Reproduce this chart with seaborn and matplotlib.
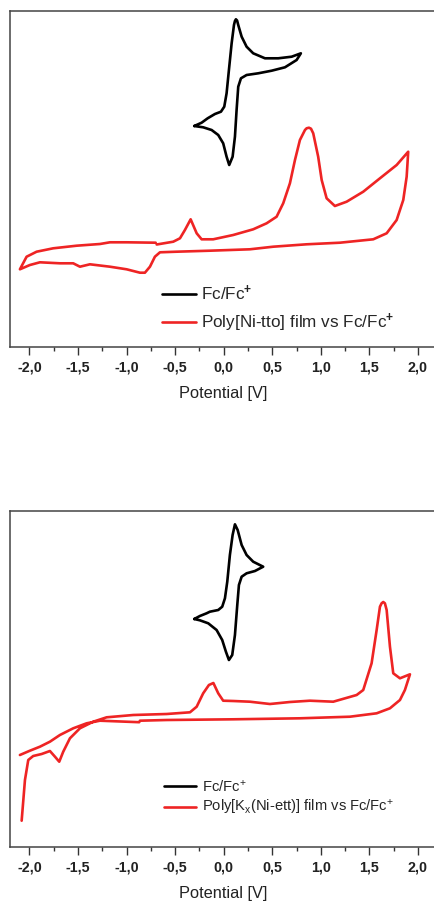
import numpy as np
import pandas as pd
import matplotlib
matplotlib.use("Agg")
import matplotlib.pyplot as plt
import seaborn as sns

# ---- data (potential in V vs Fc/Fc+, current in arbitrary units) ----
# top panel: ferrocene reference
fc_top_v = [-0.303, -0.227, -0.165, -0.090, -0.028, 0.006, 0.030, 0.054, 0.082, 0.106,
            0.116, 0.126, 0.138, 0.150, 0.185, 0.236, 0.304, 0.425, 0.562, 0.700, 0.795,
            0.751, 0.631, 0.494, 0.356, 0.236, 0.178, 0.150, 0.133, 0.116, 0.092,
            0.057, 0.030, -0.005, -0.056, -0.124, -0.211, -0.303]
fc_top_i = [221.0, 224.3, 228.7, 233.0, 235.3, 240.3, 253.7, 277.0, 303.7, 322.0,
            326.0, 327.7, 326.5, 322.0, 310.3, 300.3, 293.7, 288.7, 288.7, 290.3, 293.7,
            287.0, 279.7, 276.3, 273.7, 272.0, 268.7, 260.3, 237.0, 210.3, 190.3,
            182.0, 190.3, 203.7, 212.0, 217.0, 219.7, 221.0]

# top panel: Poly[Ni-tto] film
tto_v = [-0.690, -0.519, -0.450, -0.399, -0.340, -0.278, -0.227, -0.108, 0.098, 0.304,
         0.442, 0.545, 0.613, 0.682, 0.734, 0.785, 0.837, 0.854, 0.878, 0.899, 0.922,
         0.973, 1.009, 1.060, 1.145, 1.266, 1.437, 1.609, 1.781, 1.900,
         1.884, 1.849, 1.781, 1.678, 1.540, 1.197, 0.854, 0.510, 0.270, -0.142,
         -0.484, -0.656, -0.708, -0.759, -0.811, -0.862, -0.999, -1.171, -1.377,
         -1.480, -1.549, -1.686, -1.892, -1.995, -2.098,
         -2.029, -1.926, -1.755, -1.514, -1.274, -1.171, -0.999, -0.700]
tto_i = [102.5, 105.3, 108.7, 117.0, 127.7, 113.7, 107.7, 107.7, 112.0, 117.7,
         123.7, 130.3, 143.7, 163.7, 187.0, 207.0, 217.0, 218.7, 219.3, 218.3, 213.7,
         190.3, 167.0, 148.7, 141.0, 145.3, 155.3, 168.7, 182.0, 195.3,
         170.3, 147.0, 127.0, 113.7, 107.7, 104.3, 102.7, 100.3, 97.7, 96.3,
         95.3, 94.7, 90.3, 80.3, 74.3, 74.3, 77.7, 80.3, 82.7,
         80.3, 83.7, 83.7, 84.7, 82.0, 77.7,
         90.3, 95.3, 98.7, 101.3, 103.0, 104.7, 104.7, 104.3]

# bottom panel: ferrocene reference
fc_bot_v = [-0.303, -0.245, -0.176, -0.142, -0.056, -0.015, 0.013, 0.037, 0.064, 0.092,
            0.116, 0.144, 0.185, 0.236, 0.304, 0.407,
            0.322, 0.236, 0.185, 0.157, 0.140, 0.116, 0.088, 0.054, 0.023, -0.015,
            -0.073, -0.159, -0.245, -0.303]
fc_bot_i = [228.0, 231.0, 233.7, 235.3, 237.0, 240.3, 248.7, 265.3, 292.0, 312.0,
            322.7, 317.0, 302.0, 292.0, 285.3, 280.3,
            276.0, 273.7, 270.3, 262.0, 242.0, 212.0, 192.0, 187.0, 195.3, 207.0,
            217.0, 223.7, 226.7, 228.0]

# bottom panel: Poly[Kx(Ni-ett)] film
ett_v = [-2.080, -2.046, -2.012, -1.961, -1.874, -1.789, -1.737, -1.693, -1.652, -1.583,
         -1.480, -1.343, -1.205, -0.931, -0.587, -0.347, -0.278, -0.211, -0.152, -0.106,
         -0.056, -0.005, 0.098, 0.270, 0.476, 0.682, 0.888, 1.128, 1.369, 1.437,
         1.523, 1.575, 1.609, 1.626, 1.643, 1.660, 1.678, 1.712, 1.746, 1.815, 1.918,
         1.866, 1.815, 1.712, 1.575, 1.300, 0.785, 0.098, -0.587, -0.862, -0.870,
         -1.274, -1.411, -1.549, -1.686, -1.789, -1.892, -1.995, -2.098]
ett_i = [26.3, 67.0, 87.0, 91.0, 93.0, 96.0, 90.3, 85.3, 95.3, 108.7,
         118.7, 125.3, 129.7, 132.0, 133.0, 134.7, 140.3, 153.7, 162.0, 164.0,
         153.7, 146.3, 146.0, 145.3, 143.0, 145.0, 146.3, 145.3, 152.0, 157.0,
         183.7, 217.0, 240.3, 243.7, 245.0, 243.7, 237.0, 200.3, 173.7, 168.7, 172.7,
         157.0, 147.0, 138.7, 133.7, 130.3, 128.7, 127.7, 127.0, 126.3, 124.8,
         126.3, 123.7, 118.7, 112.0, 105.3, 100.3, 96.3, 92.0]

tick_values = [-2.0, -1.5, -1.0, -0.5, 0.0, 0.5, 1.0, 1.5, 2.0]
tick_labels = ["-2,0", "-1,5", "-1,0", "-0,5", "0,0", "0,5", "1,0", "1,5", "2,0"]

label_fc = "Fc/Fc$^{\\mathbf{+}}$"
label_tto = "Poly[Ni-tto] film vs Fc/Fc$^{\\mathbf{+}}$"
label_fc2 = "Fc/Fc$^{+}$"
label_ett = "Poly[K$_{x}$(Ni-ett)] film vs Fc/Fc$^{+}$"

RED = "#ee2424"

sns.set_style("ticks")
plt.rcParams["font.family"] = ["Liberation Sans", "DejaVu Sans"]
plt.rcParams["mathtext.fontset"] = "custom"
plt.rcParams["mathtext.rm"] = "Liberation Sans"
plt.rcParams["mathtext.it"] = "Liberation Sans"
plt.rcParams["mathtext.bf"] = "Liberation Sans:bold"
plt.rcParams["lines.solid_joinstyle"] = "round"
plt.rcParams["lines.solid_capstyle"] = "round"


def style_axes(ax):
    ax.set_xlim(-2.2, 2.2)
    ax.set_ylim(0, 336)
    ax.set_yticks([])
    ax.set_ylabel("")
    ax.set_xticks(tick_values)
    ax.set_xticklabels(tick_labels, fontsize=10.3, fontweight="bold", color="#222222")
    ax.set_xticks(np.arange(-2.0, 2.01, 0.25), minor=True)
    ax.tick_params(axis="x", which="major", direction="out", length=5.5, width=1.0,
                   pad=4.5, color="#333333")
    ax.tick_params(axis="x", which="minor", direction="out", length=3, width=1.0,
                   color="#333333")
    ax.set_xlabel("Potential [V]", fontsize=11.8, labelpad=8, color="#222222")
    for side in ["left", "top", "bottom", "right"]:
        ax.spines[side].set_color("#444444")
        ax.spines[side].set_linewidth(1.1)


fig = plt.figure(figsize=(4.34, 9.01), dpi=100)
ax1 = fig.add_axes([0.02304, 0.61487, 0.98468, 0.37292])
ax2 = fig.add_axes([0.02304, 0.05993, 0.98468, 0.37292])

sns.lineplot(x=fc_top_v, y=fc_top_i, sort=False, estimator=None, color="black",
             linewidth=1.9, label=label_fc, ax=ax1)
sns.lineplot(x=tto_v, y=tto_i, sort=False, estimator=None, color=RED,
             linewidth=1.9, label=label_tto, ax=ax1)
style_axes(ax1)
ax1.legend(loc="center left", bbox_to_anchor=(0.3557, 0.114), frameon=False,
           fontsize=12.3, handlelength=2.0, handletextpad=0.3, borderpad=0,
           borderaxespad=0, labelspacing=0.55)

sns.lineplot(x=fc_bot_v, y=fc_bot_i, sort=False, estimator=None, color="black",
             linewidth=1.9, label=label_fc2, ax=ax2)
sns.lineplot(x=ett_v, y=ett_i, sort=False, estimator=None, color=RED,
             linewidth=1.9, label=label_ett, ax=ax2)
style_axes(ax2)
ax2.legend(loc="center left", bbox_to_anchor=(0.3604, 0.146), frameon=False,
           fontsize=10.6, handlelength=2.2, handletextpad=0.4, borderpad=0,
           borderaxespad=0, labelspacing=0.25)

fig.savefig("out.png", dpi=100)
plt.close(fig)
